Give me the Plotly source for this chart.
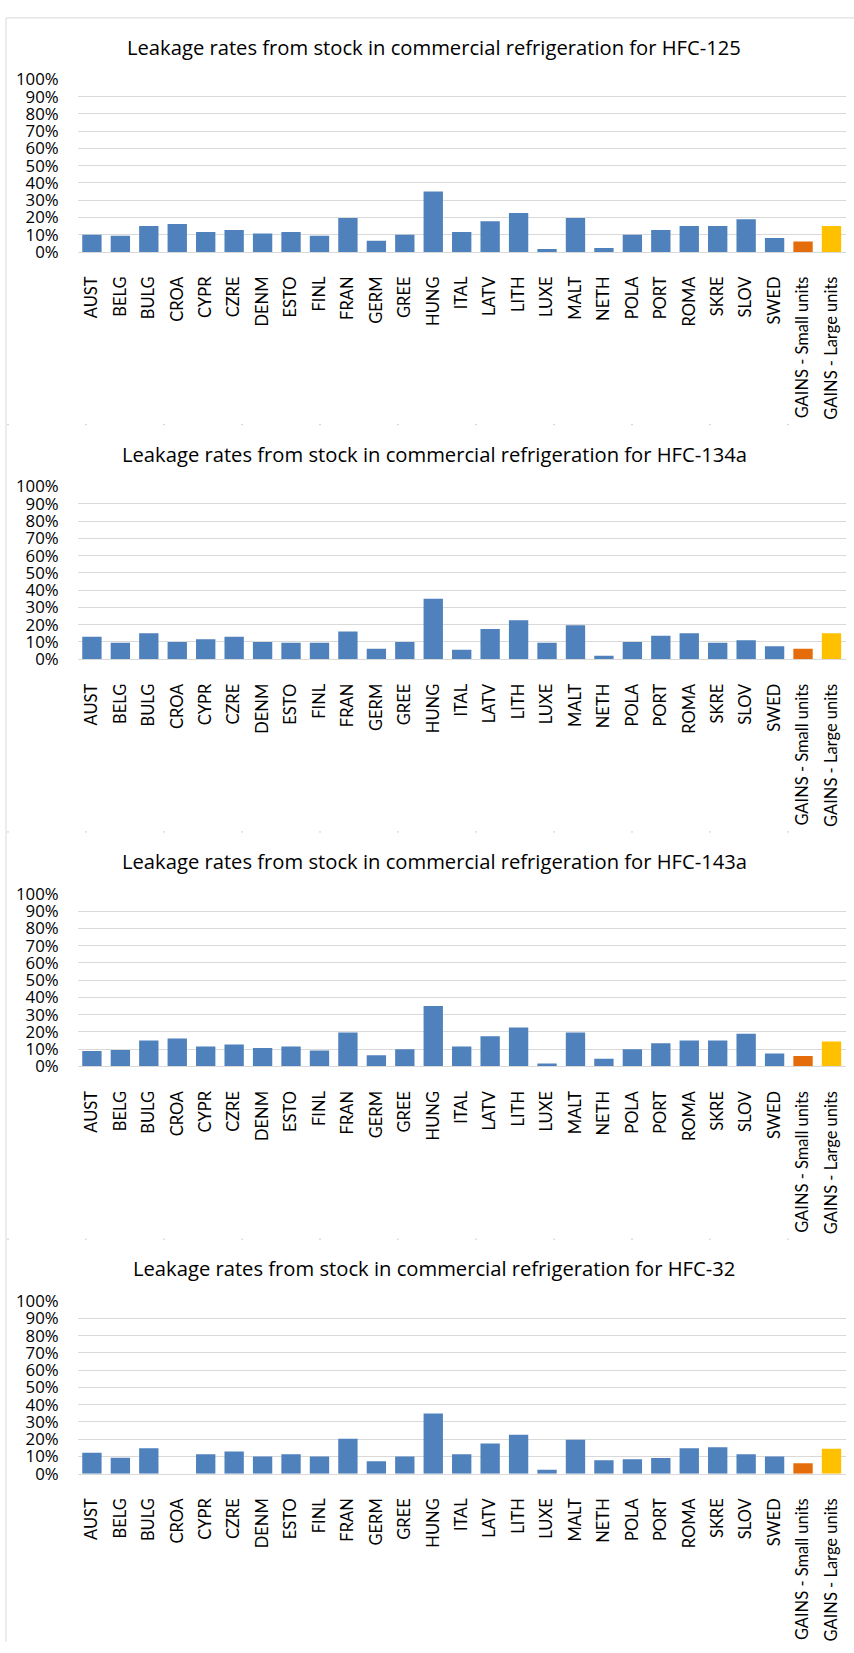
import plotly.graph_objects as go

categories = ["AUST", "BELG", "BULG", "CROA", "CYPR", "CZRE", "DENM", "ESTO", "FINL", "FRAN",
              "GERM", "GREE", "HUNG", "ITAL", "LATV", "LITH", "LUXE", "MALT", "NETH", "POLA",
              "PORT", "ROMA", "SKRE", "SLOV", "SWED", "GAINS - Small units", "GAINS - Large units"]

titles = [
    "Leakage rates from stock in commercial refrigeration for HFC-125",
    "Leakage rates from stock in commercial refrigeration for HFC-134a",
    "Leakage rates from stock in commercial refrigeration for HFC-143a",
    "Leakage rates from stock in commercial refrigeration for HFC-32",
]

hfc125 = [0.10, 0.093, 0.15, 0.162, 0.115, 0.127, 0.107, 0.115, 0.093, 0.197,
          0.065, 0.10, 0.35, 0.115, 0.177, 0.225, 0.017, 0.197, 0.023, 0.10,
          0.127, 0.15, 0.15, 0.19, 0.08, 0.06, 0.15]
hfc134a = [0.13, 0.095, 0.15, 0.10, 0.115, 0.13, 0.10, 0.095, 0.095, 0.16,
           0.06, 0.10, 0.35, 0.055, 0.175, 0.225, 0.095, 0.197, 0.02, 0.10,
           0.135, 0.15, 0.095, 0.11, 0.075, 0.06, 0.15]
hfc143a = [0.09, 0.095, 0.15, 0.162, 0.115, 0.127, 0.107, 0.115, 0.093, 0.197,
           0.065, 0.10, 0.35, 0.115, 0.175, 0.225, 0.017, 0.197, 0.045, 0.10,
           0.135, 0.15, 0.15, 0.19, 0.075, 0.06, 0.145]
hfc32 = [0.121, 0.092, 0.148, 0.0, 0.112, 0.128, 0.10, 0.112, 0.10, 0.202,
         0.072, 0.10, 0.349, 0.112, 0.175, 0.225, 0.023, 0.196, 0.078, 0.084,
         0.091, 0.148, 0.153, 0.112, 0.10, 0.06, 0.145]
series = [hfc125, hfc134a, hfc143a, hfc32]

ytick_vals = [i / 10 for i in range(11)]
ytick_text = [f"{i * 10}%" for i in range(11)]

W, H = 854, 1653
PANEL = 413.0
PLOT_LEFT, PLOT_RIGHT = 77.7, 845.7
TOP0, BOT0 = 68.3, 243.3
TITLE0 = 35.0

BLUE = "#4F81BD"
ORANGE = "#E46C0A"
YELLOW = "#FFC000"
XFONT = "Lato, 'Open Sans', sans-serif"
HFONT = "'Open Sans', Lato, sans-serif"


def bar_color(name):
    if name.endswith("Small units"):
        return ORANGE
    if name.endswith("Large units"):
        return YELLOW
    return BLUE


colors = [bar_color(c) for c in categories]

fig = go.Figure()
layout = dict(
    width=W, height=H, margin=dict(l=0, r=0, t=0, b=0),
    paper_bgcolor="white", plot_bgcolor="white",
    showlegend=False, bargap=0.32,
    font=dict(family=HFONT, color="#000000"),
)
annotations = []
shapes = []

for k, (vals, title) in enumerate(zip(series, titles)):
    idx = "" if k == 0 else str(k + 1)
    fig.add_trace(go.Bar(
        x=categories, y=vals, marker=dict(color=colors, line=dict(width=0)),
        xaxis="x" + idx, yaxis="y" + idx, hoverinfo="x+y",
    ))
    top_px = TOP0 + PANEL * k
    bot_px = BOT0 + PANEL * k
    layout["xaxis" + idx] = dict(
        domain=[PLOT_LEFT / W, PLOT_RIGHT / W], anchor="y" + idx,
        type="category", tickangle=-90, showgrid=False,
        showline=True, linecolor="#D9D9D9", linewidth=1,
        ticks="", tickfont=dict(family=XFONT, size=16.5, color="#000000"),
        ticklabelstandoff=17, fixedrange=True,
    )
    layout["yaxis" + idx] = dict(
        domain=[1 - bot_px / H, 1 - top_px / H], anchor="x" + idx,
        range=[0, 1], tickvals=ytick_vals, ticktext=ytick_text,
        showgrid=True, gridcolor="#D9D9D9", gridwidth=1,
        zeroline=False, showline=False, ticks="",
        tickfont=dict(family=HFONT, size=16.8, color="#000000"),
        ticklabelstandoff=18, fixedrange=True,
    )
    annotations.append(dict(
        text=title, x=434 / W, y=1 - (TITLE0 + PANEL * k) / H,
        xref="paper", yref="paper", xanchor="center", yanchor="middle",
        showarrow=False, font=dict(family=HFONT, size=20.2, color="#000000"),
    ))
    if k > 0:
        ysep = 1 - (5.5 + PANEL * k) / H
        shapes.append(dict(
            type="line", xref="paper", yref="paper", x0=7 / W, x1=1, y0=ysep, y1=ysep,
            line=dict(color="#D0D0D0", width=1, dash="2px,76px"),
        ))

# chart area border (left and top)
shapes.append(dict(type="line", xref="paper", yref="paper", x0=6 / W, x1=6 / W,
                   y0=0, y1=1 - 6 / H, line=dict(color="#D9D9D9", width=1)))
shapes.append(dict(type="line", xref="paper", yref="paper", x0=6 / W, x1=1,
                   y0=1 - 6 / H, y1=1 - 6 / H, line=dict(color="#D9D9D9", width=1)))

layout["annotations"] = annotations
layout["shapes"] = shapes
fig.update_layout(**layout)
fig.write_html(
    "out.html",
    config={"displayModeBar": False},
    post_script="document.body.style.margin='0px';document.body.style.padding='0px';"
                "document.documentElement.style.margin='0px';",
)
